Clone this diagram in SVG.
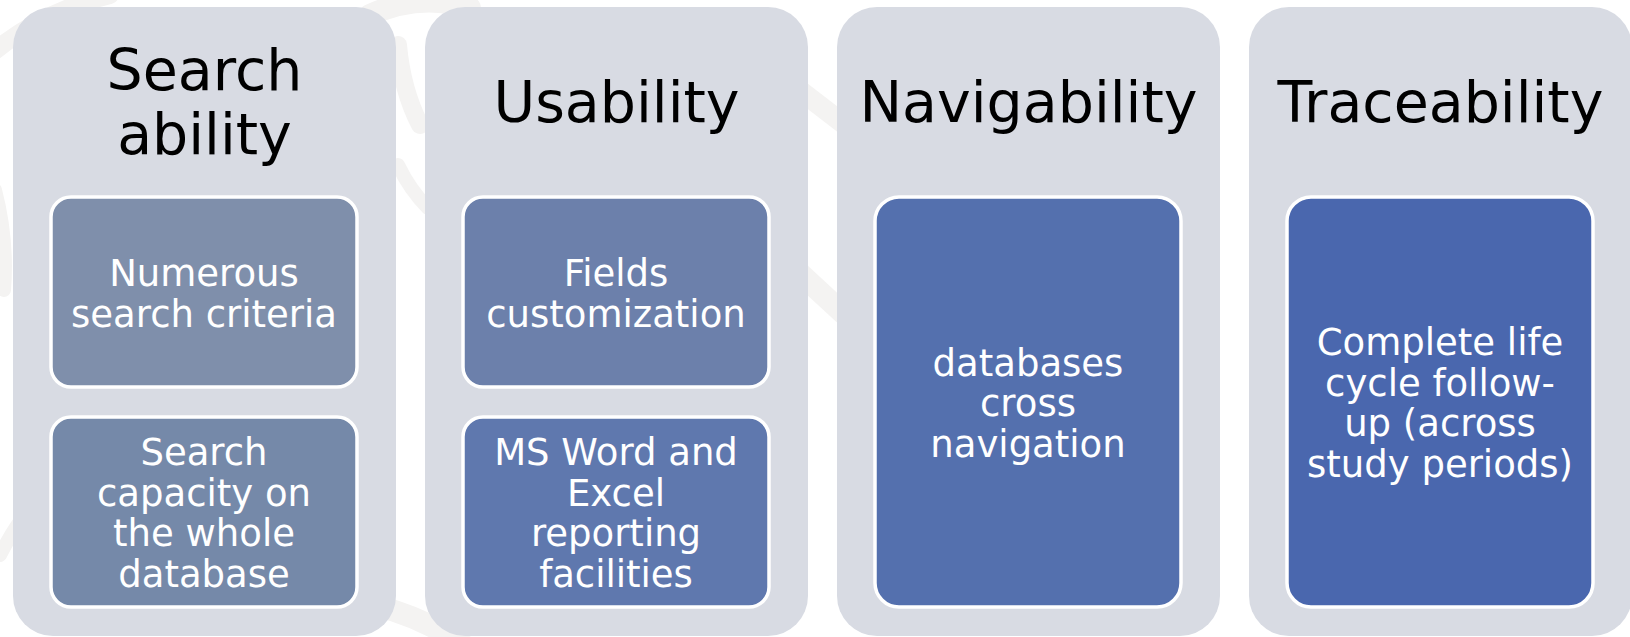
<svg xmlns="http://www.w3.org/2000/svg" width="1630" height="637" viewBox="0 0 1630 637">
<style>
.outer{fill:#d8dbe3}
.inner{stroke:#ffffff;stroke-width:3.5}
.title{font-family:"DejaVu Sans",Verdana,sans-serif;font-size:57px;fill:#000000;text-anchor:middle}
.body{font-family:"DejaVu Sans",Verdana,sans-serif;font-size:37px;fill:#ffffff;text-anchor:middle}
.bg{fill:none;stroke:#f4f3f2;stroke-linecap:round}
</style>
<rect width="1630" height="637" fill="#ffffff"/>
<g id="background">
<path class="bg" d="M-10 55 Q40 12 110 -5" stroke-width="18"/>
<path class="bg" d="M-5 190 Q8 240 4 290" stroke-width="14"/>
<path class="bg" d="M370 15 Q420 -8 470 8" stroke-width="22"/>
<path class="bg" d="M398 45 Q402 90 420 125" stroke-width="18"/>
<path class="bg" d="M398 165 Q410 190 428 208" stroke-width="14"/>
<path class="bg" d="M780 75 L845 125" stroke-width="20"/>
<path class="bg" d="M780 255 L845 315" stroke-width="22"/>
<path class="bg" d="M350 600 Q420 612 470 650" stroke-width="22"/>
<path class="bg" d="M0 555 Q18 520 36 502" stroke-width="14"/>
</g>
<g id="col-searchability">
<rect class="outer" x="13" y="7" width="383" height="629" rx="40"/>
<text class="title" x="204.5" y="90">Search</text>
<text class="title" x="204.5" y="154">ability</text>
<g id="node-numerous">
<rect class="inner" x="51" y="197" width="306" height="190" rx="20" fill="#7f8fab"/>
<text class="body" x="204" y="286">Numerous</text>
<text class="body" x="204" y="326.5">search criteria</text>
</g>
<g id="node-search-capacity">
<rect class="inner" x="51" y="417" width="306" height="190" rx="20" fill="#7589a9"/>
<text class="body" x="204" y="465">Search</text>
<text class="body" x="204" y="505.5">capacity on</text>
<text class="body" x="204" y="546">the whole</text>
<text class="body" x="204" y="586.5">database</text>
</g>
</g>
<g id="col-usability">
<rect class="outer" x="425" y="7" width="383" height="629" rx="40"/>
<text class="title" x="616.5" y="122">Usability</text>
<g id="node-fields">
<rect class="inner" x="463" y="197" width="306" height="190" rx="20" fill="#6c80ab"/>
<text class="body" x="616" y="286">Fields</text>
<text class="body" x="616" y="326.5">customization</text>
</g>
<g id="node-msword">
<rect class="inner" x="463" y="417" width="306" height="190" rx="20" fill="#5f78ae"/>
<text class="body" x="616" y="465">MS Word and</text>
<text class="body" x="616" y="505.5">Excel</text>
<text class="body" x="616" y="546">reporting</text>
<text class="body" x="616" y="586.5">facilities</text>
</g>
</g>
<g id="col-navigability">
<rect class="outer" x="837" y="7" width="383" height="629" rx="40"/>
<text class="title" x="1028.5" y="122">Navigability</text>
<g id="node-databases">
<rect class="inner" x="875" y="197" width="306" height="410" rx="24" fill="#5470ae"/>
<text class="body" x="1028" y="375.5">databases</text>
<text class="body" x="1028" y="416">cross</text>
<text class="body" x="1028" y="456.5">navigation</text>
</g>
</g>
<g id="col-traceability">
<rect class="outer" x="1249" y="7" width="383" height="629" rx="40"/>
<text class="title" x="1440.5" y="122">Traceability</text>
<g id="node-lifecycle">
<rect class="inner" x="1287" y="197" width="306" height="410" rx="24" fill="#4a67ae"/>
<text class="body" x="1440" y="355">Complete life</text>
<text class="body" x="1440" y="395.5">cycle follow-</text>
<text class="body" x="1440" y="436">up (across</text>
<text class="body" x="1440" y="476.5">study periods)</text>
</g>
</g>
<g id="connectors"></g>
</svg>
